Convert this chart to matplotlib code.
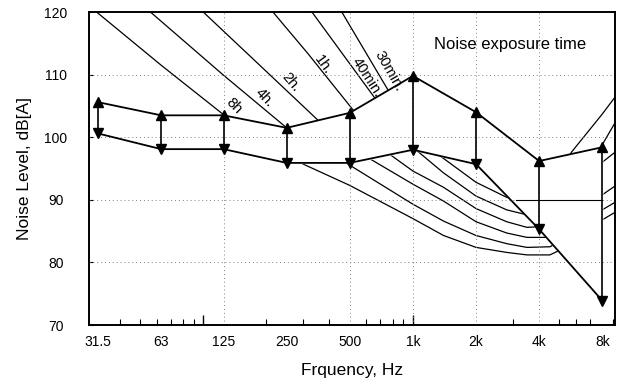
import numpy as np
import matplotlib
matplotlib.use("Agg")
import matplotlib.pyplot as plt
from matplotlib.ticker import FixedLocator, NullFormatter

plt.rcParams['font.family'] = ['Liberation Sans', 'DejaVu Sans']

# octave band centres and measured noise levels
band_freq = [31.5, 63, 125, 250, 500, 1000, 2000, 4000, 8000]
band_labels = ["31.5", "63", "125", "250", "500", "1k", "2k", "4k", "8k"]
level_max = [105.6, 103.5, 103.5, 101.5, 103.9, 109.8, 104.0, 96.2, 98.4]
level_min = [100.6, 98.1, 98.1, 95.9, 95.9, 98.0, 95.7, 85.3, 73.9]

# noise exposure time curves
f_8h = [31, 63, 125, 300, 500, 1000, 1400, 2000, 2800, 3500, 4500, 6300, 8000, 9200]
L_8h = [120, 111.5, 103.6, 95.7, 92.3, 87.0, 84.3, 82.4, 81.6, 81.2, 81.2, 83.5, 86.8, 88.0]
f_4h = [56, 125, 250, 480, 1000, 1400, 2000, 2800, 3500, 4500, 6300, 8000, 9200]
L_4h = [120, 109.9, 101.5, 95.9, 89.3, 86.6, 84.3, 83.0, 82.4, 82.5, 85.0, 88.4, 89.6]
f_2h = [100, 200, 353, 620, 1000, 1400, 2000, 2800, 3500, 4500, 6300, 8000, 9200]
L_2h = [120, 110.5, 102.7, 96.6, 92.5, 89.8, 86.5, 84.7, 84.0, 84.0, 87.0, 90.8, 92.2]
f_1h = [215, 315, 520, 780, 1000, 1400, 2000, 2800, 3500, 4500, 6300, 8000, 9200]
L_1h = [120, 113.4, 104.3, 97.2, 94.6, 92.0, 88.6, 86.5, 85.6, 85.8, 90.0, 96.0, 97.6]
f_40m = [330, 657, 1050, 1400, 2000, 2800, 3500, 4500, 6300, 8000, 9200]
L_40m = [120, 106.3, 97.8, 94.3, 90.6, 88.4, 87.6, 88.0, 93.0, 98.8, 102.3]
f_30m = [458, 762, 1350, 2000, 2800, 3500, 4500, 5700, 8000, 9200]
L_30m = [120, 107.5, 97.0, 92.8, 90.4, 89.6, 91.0, 97.6, 103.7, 106.4]
curve_names = ["8h", "4h.", "2h.", "1h.", "40min.", "30min."]

# label anchor points for curves
label_freq = [140, 196, 262, 372, 602, 765]
label_level = [105.0, 106.3, 108.8, 111.5, 109.6, 110.6]
label_rot = [-45, -47, -50, -54, -57, -60]

# 90 dB reference line at the high end
ref_freq = [3100, 8000]
ref_level = [90, 90]

grid_freq = [125, 500, 1000, 2000, 4000]
grid_level = [80, 90, 100, 110]

fig = plt.figure(figsize=(6.21, 3.89), dpi=100)
ax = fig.add_axes([0.1433, 0.1645, 0.8470, 0.8045])

curves = [(f_8h, L_8h), (f_4h, L_4h), (f_2h, L_2h), (f_1h, L_1h), (f_40m, L_40m), (f_30m, L_30m)]
for f, L in curves:
    ax.plot(f, L, color="black", lw=0.9, zorder=1)

# band between min and max levels hides the curves
ax.fill_between(band_freq, level_min, level_max, color="white", zorder=2)

for g in grid_level:
    ax.axhline(g, color="gray", ls=(0, (1, 3)), lw=0.7, zorder=2.5)
for g in grid_freq:
    ax.axvline(g, color="gray", ls=(0, (1, 3)), lw=0.7, zorder=2.5)

ax.plot(ref_freq, ref_level, color="black", lw=0.8, zorder=2.6)

ax.plot(band_freq, level_max, color="black", lw=1.3, zorder=3)
ax.plot(band_freq, level_min, color="black", lw=1.3, zorder=3)
ax.vlines(band_freq, level_min, level_max, color="black", lw=1.2, zorder=3)
ax.plot(band_freq, level_max, ls="none", marker="^", ms=7, color="black", zorder=4)
ax.plot(band_freq, level_min, ls="none", marker="v", ms=7, color="black", zorder=4)

for name, lf, ll, r in zip(curve_names, label_freq, label_level, label_rot):
    ax.text(lf, ll, name, rotation=r, fontsize=10.5, ha="center", va="center",
            rotation_mode="anchor", zorder=5)

ax.text(0.945, 0.895, "Noise exposure time", transform=ax.transAxes, ha="right",
        va="center", fontsize=12)

ax.set_xscale("log")
ax.set_xlim(28.5, 9200)
ax.set_ylim(70, 120)
ax.set_xticks(band_freq)
ax.set_xticklabels(band_labels)
ax.xaxis.set_minor_locator(FixedLocator([40, 50, 60, 70, 80, 90, 200, 300, 400, 500, 600,
                                         700, 800, 900, 2000, 3000, 4000, 5000, 6000,
                                         7000, 8000, 9000]))
ax.xaxis.set_minor_formatter(NullFormatter())
ax.tick_params(axis="x", which="major", length=0, pad=7, labelsize=10)
ax.tick_params(axis="x", which="minor", direction="in", length=4, width=0.8)
ax.set_yticks([70, 80, 90, 100, 110, 120])
ax.tick_params(axis="y", direction="in", length=3, width=0.8, labelsize=10, pad=24)
for lab in ax.get_yticklabels():
    lab.set_horizontalalignment("center")

sec = ax.secondary_xaxis("bottom")
sec.set_xticks([100, 1000])
sec.tick_params(direction="in", length=7, width=1.0, labelbottom=False)
sec.xaxis.set_minor_locator(FixedLocator([]))
sec.spines["bottom"].set_visible(False)

for s in ax.spines.values():
    s.set_linewidth(1.4)

ax.set_xlabel("Frquency, Hz", fontsize=12.5, labelpad=10)
ax.set_ylabel("Noise Level, dB[A]", fontsize=12.5, labelpad=9)

fig.savefig("out.png", dpi=100)
